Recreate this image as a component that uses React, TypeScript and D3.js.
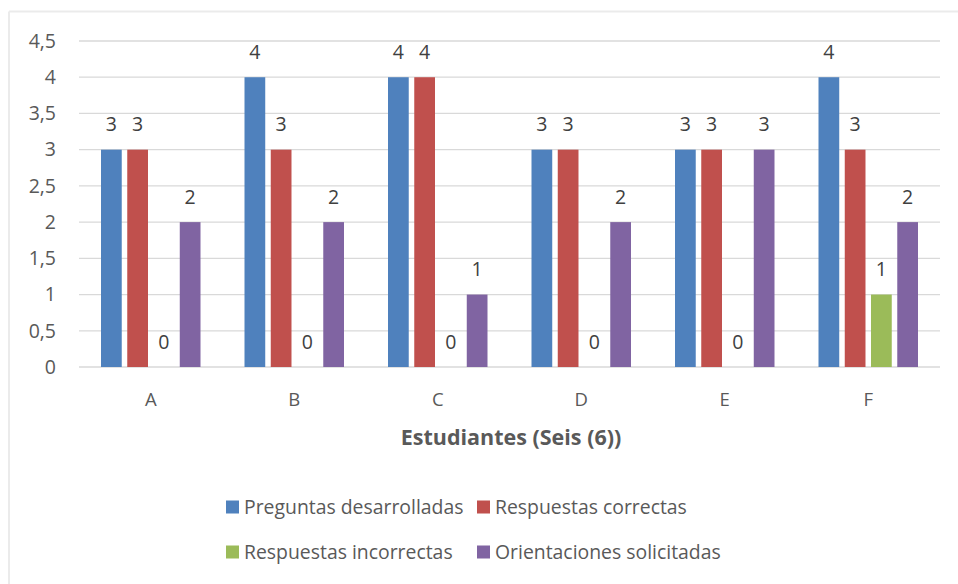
import React from "react";
import * as d3 from "d3";

const categories = ["A", "B", "C", "D", "E", "F"];
const seriesNames = [
  "Preguntas desarrolladas",
  "Respuestas correctas",
  "Respuestas incorrectas",
  "Orientaciones solicitadas",
];
const preguntas = [3, 4, 4, 3, 3, 4];
const correctas = [3, 3, 4, 3, 3, 3];
const incorrectas = [0, 0, 0, 0, 0, 1];
const orientaciones = [2, 2, 1, 2, 3, 2];
const yTicks = [0, 0.5, 1, 1.5, 2, 2.5, 3, 3.5, 4, 4.5];
const colors = ["#4F81BD", "#C0504D", "#9BBB59", "#8064A2"];
const xTitle = "Estudiantes (Seis (6))";

const W = 958;
const H = 584;
const FONT = "Open Sans, sans-serif";
const TXT = "#595959";

export default function App() {
  const series = [preguntas, correctas, incorrectas, orientaciones];
  const x = d3.scaleBand<string>().domain(categories).range([79, 940]).padding(0);
  const inner = d3
    .scaleBand<number>()
    .domain([0, 1, 2, 3])
    .range([22, 121.5])
    .paddingInner(0.21)
    .paddingOuter(0);
  const y = d3.scaleLinear().domain([0, 4.5]).range([367, 41]);
  const fmt = (v: number) => String(v).replace(".", ",");

  const legendItems = [
    { i: 0, x: 226, y: 507 },
    { i: 1, x: 477, y: 507 },
    { i: 2, x: 226, y: 552 },
    { i: 3, x: 477, y: 552 },
  ];

  return (
    <div style={{ position: "absolute", left: 0, top: 0 }}>
      <svg width={W} height={H} style={{ display: "block", background: "#fff" }}>
        <line x1={9} x2={W} y1={11.5} y2={11.5} stroke="#EBEBEB" strokeWidth={2} />
        <line x1={9} x2={9} y1={11.5} y2={H} stroke="#EBEBEB" strokeWidth={2} />
        {yTicks.map((t) => (
          <g key={t}>
            <line x1={79} x2={940} y1={y(t)} y2={y(t)} stroke="#D9D9D9" strokeWidth={1.3} />
            <text
              x={56}
              y={y(t)}
              dy="0.35em"
              textAnchor="end"
              fontFamily={FONT}
              fontSize={19.5}
              fill={TXT}
            >
              {fmt(t)}
            </text>
          </g>
        ))}
        {categories.map((c, ci) => (
          <g key={c} transform={`translate(${x(c)},0)`}>
            {series.map((s, si) => {
              const v = s[ci];
              const bx = inner(si)!;
              const bw = inner.bandwidth();
              return (
                <g key={si}>
                  <rect x={bx} y={y(v)} width={bw} height={y(0) - y(v)} fill={colors[si]} />
                  <text
                    x={bx + bw / 2}
                    y={y(v) - 25}
                    dy="0.35em"
                    textAnchor="middle"
                    fontFamily={FONT}
                    fontSize={19.5}
                    fill="#404040"
                  >
                    {v}
                  </text>
                </g>
              );
            })}
            <text
              x={x.bandwidth() / 2}
              y={400}
              dy="0.35em"
              textAnchor="middle"
              fontFamily={FONT}
              fontSize={18.5}
              fill={TXT}
            >
              {c}
            </text>
          </g>
        ))}
        <text
          x={511}
          y={437}
          dy="0.35em"
          textAnchor="middle"
          fontFamily={FONT}
          fontSize={21.5}
          fontWeight="bold"
          fill={TXT}
        >
          {xTitle}
        </text>
        {legendItems.map((l) => (
          <g key={l.i}>
            <rect x={l.x} y={l.y - 6.5} width={13} height={13} fill={colors[l.i]} />
            <text
              x={l.x + 18}
              y={l.y}
              dy="0.35em"
              fontFamily={FONT}
              fontSize={19.4}
              fill={TXT}
            >
              {seriesNames[l.i]}
            </text>
          </g>
        ))}
      </svg>
    </div>
  );
}
